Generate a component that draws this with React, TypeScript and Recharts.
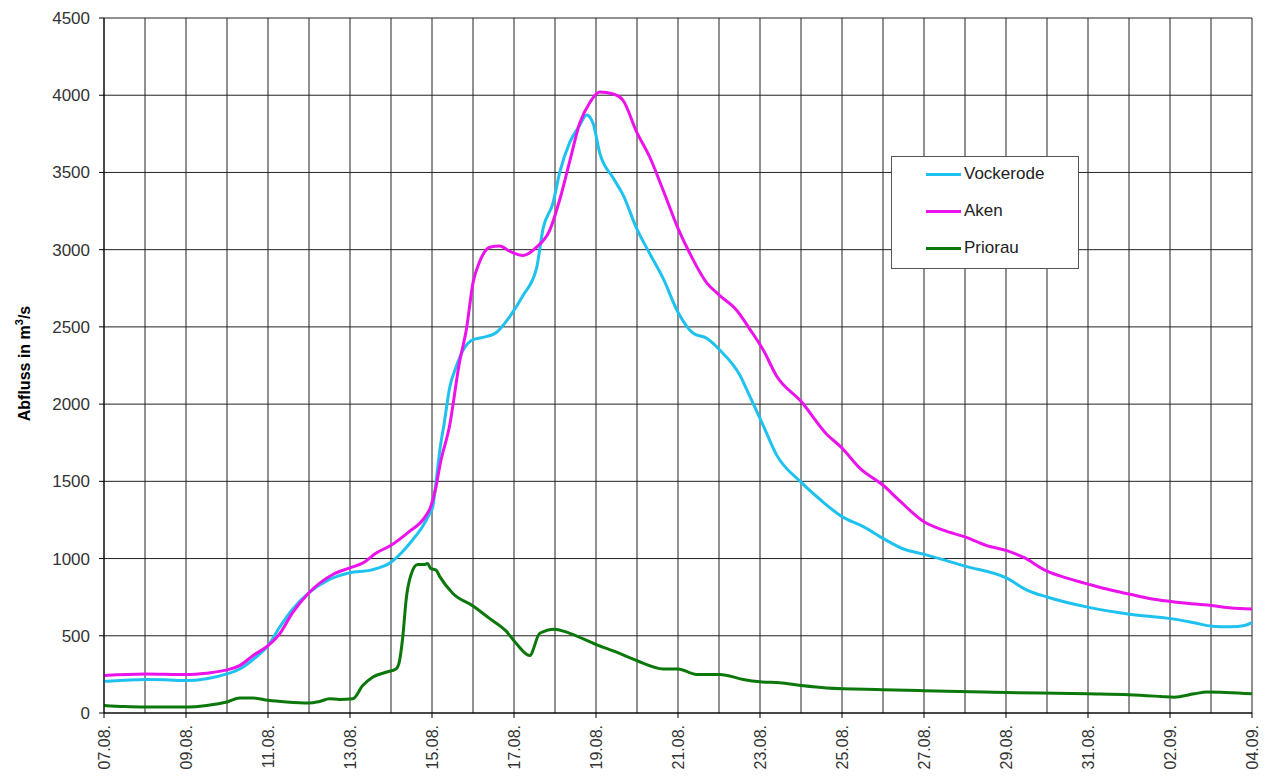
import React from "react";
import { LineChart, Line, XAxis, YAxis, CartesianGrid } from "recharts";

// days since 07.08.
const dateLabels = ["07.08.", "09.08.", "11.08.", "13.08.", "15.08.", "17.08.", "19.08.", "21.08.", "23.08.", "25.08.", "27.08.", "29.08.", "31.08.", "02.09.", "04.09."];
const dayTicks = Array.from({ length: 29 }, (_, i) => i);
const yTicks = [0, 500, 1000, 1500, 2000, 2500, 3000, 3500, 4000, 4500];

const vockerode: [number, number][] = [
  [0, 205], [0.5, 212], [1, 217], [1.5, 215], [2, 210], [2.5, 222], [3, 253], [3.31, 285], [3.63, 345], [4, 436],
  [4.28, 554], [4.6, 672], [5, 779], [5.5, 865], [6, 908], [6.5, 925], [7, 976], [7.29, 1047], [7.53, 1122], [7.77, 1208],
  [7.94, 1290], [8.02, 1337], [8.1, 1500], [8.2, 1720], [8.3, 1880], [8.43, 2106], [8.59, 2242], [8.76, 2350], [9, 2418],
  [9.24, 2432], [9.57, 2464], [9.9, 2568], [10.22, 2703], [10.55, 2880], [10.71, 3138], [10.95, 3301], [11.12, 3505],
  [11.36, 3695], [11.6, 3804], [11.77, 3872], [11.93, 3817], [12.09, 3627], [12.42, 3464], [12.66, 3355], [12.99, 3138],
  [13.31, 2975], [13.64, 2812], [14, 2595], [14.37, 2459], [14.7, 2426], [15.02, 2350], [15.51, 2187], [15.75, 2051],
  [16.08, 1861], [16.4, 1673], [17, 1495], [17.46, 1384], [17.99, 1273], [18.52, 1207], [19.01, 1129], [19.5, 1062],
  [19.99, 1029], [21, 951], [22.02, 873], [22.51, 796], [23, 751], [24.02, 684], [25.02, 640], [26.02, 611],
  [26.59, 584], [27.02, 562], [27.49, 558], [27.82, 567], [28, 585],
];

const aken: [number, number][] = [
  [0, 243], [1, 253], [2, 249], [2.5, 258], [3, 279], [3.31, 307], [3.63, 371], [4, 436], [4.28, 511], [4.6, 650],
  [5, 779], [5.58, 897], [6, 940], [6.32, 972], [6.64, 1036], [7, 1086], [7.45, 1176], [7.81, 1262], [7.97, 1337],
  [8.1, 1466], [8.19, 1600], [8.43, 1861], [8.67, 2269], [8.84, 2486], [9, 2785], [9.16, 2921], [9.41, 3016],
  [9.65, 3024], [9.9, 2989], [10.22, 2962], [10.55, 3016], [10.87, 3125], [11.12, 3328], [11.36, 3573], [11.6, 3817],
  [11.85, 3953], [12.09, 4021], [12.42, 4008], [12.66, 3967], [12.99, 3763], [13.31, 3600], [13.64, 3383], [14, 3138],
  [14.29, 2975], [14.7, 2785], [15.02, 2703], [15.43, 2608], [15.75, 2486], [16.08, 2350], [16.4, 2184], [17, 2018],
  [17.62, 1807], [17.99, 1718], [18.44, 1584], [19.01, 1473], [19.41, 1373], [19.99, 1240], [20.47, 1184], [21, 1140],
  [21.53, 1084], [22.02, 1051], [22.43, 1007], [23, 918], [23.49, 873], [24.02, 833], [24.55, 796], [25.02, 769],
  [25.53, 740], [26.02, 722], [26.51, 707], [27.02, 696], [27.49, 680], [28, 673],
];

const priorau: [number, number][] = [
  [0, 49], [0.5, 42], [1, 39], [2, 39], [2.5, 49], [3, 71], [3.31, 97], [3.63, 97], [4, 82], [4.45, 71], [5, 64],
  [5.26, 75], [5.5, 92], [5.74, 88], [6.07, 92], [6.31, 178], [6.55, 232], [6.88, 264], [7.12, 285], [7.2, 328],
  [7.29, 500], [7.37, 736], [7.49, 897], [7.65, 961], [7.81, 961], [7.89, 968], [7.97, 936], [8.1, 925], [8.19, 883],
  [8.51, 774], [9, 693], [9.41, 611], [9.81, 530], [10.06, 448], [10.38, 372], [10.63, 516], [10.99, 543],
  [11.36, 516], [12.01, 443], [12.5, 394], [12.99, 340], [13.64, 285], [14, 285], [14.45, 250], [15.02, 250],
  [15.59, 217], [16, 202], [16.48, 196], [17, 178], [17.62, 162], [19, 151], [20, 144], [22, 133], [24, 124],
  [25, 118], [25.78, 107], [26.1, 102], [26.59, 124], [26.9, 136], [28, 124],
];

const series = [
  { name: "Vockerode", color: "#1fc2ef", points: vockerode },
  { name: "Aken", color: "#ec12ec", points: aken },
  { name: "Priorau", color: "#0c780c", points: priorau },
];

const FONT = "'Liberation Sans', Arial, sans-serif";

const DayTick = (props: any) => {
  const { x, y, payload } = props;
  const d = payload.value as number;
  if (d % 2 !== 0) return null;
  const ty = y + 4;
  return (
    <g>
      <line x1={x} y1={y - 8} x2={x} y2={y - 3} stroke="#000" />
      <text
        x={x}
        y={ty}
        transform={`rotate(-90, ${x}, ${ty})`}
        textAnchor="end"
        dy="0.35em"
        fontSize={16}
        fontFamily={FONT}
        fill="#333"
      >
        {dateLabels[d / 2]}
      </text>
    </g>
  );
};

const YTitle = (props: any) => {
  const vb = props.viewBox;
  const cx = 24;
  const cy = vb.y + vb.height / 2 - 2;
  return (
    <text
      x={cx}
      y={cy}
      transform={`rotate(-90, ${cx}, ${cy})`}
      textAnchor="middle"
      dy="0.35em"
      fontSize={16}
      fontWeight="bold"
      fontFamily={FONT}
      fill="#000"
    >
      Abfluss in m<tspan dy={-7} fontSize={11}>3</tspan>
      <tspan dy={7}>/s</tspan>
    </text>
  );
};

export default function App() {
  return (
    <div style={{ position: "absolute", left: 0, top: 0, width: 1267, height: 776, background: "#fff" }}>
      <LineChart width={1267} height={776} margin={{ top: 18, right: 15, bottom: 0, left: 0 }}>
        <CartesianGrid stroke="#222" strokeWidth={1} />
        <XAxis
          type="number"
          dataKey="t"
          domain={[0, 28]}
          ticks={dayTicks}
          interval={0}
          height={63}
          axisLine={{ stroke: "#000" }}
          tickLine={false}
          tick={<DayTick />}
          allowDuplicatedCategory={false}
        />
        <YAxis
          type="number"
          domain={[0, 4500]}
          ticks={yTicks}
          interval={0}
          width={104}
          axisLine={{ stroke: "#000" }}
          tickLine={{ stroke: "#000" }}
          tickSize={5}
          tickMargin={9}
          tick={{ fontSize: 17, fontFamily: FONT, fill: "#333" }}
          label={<YTitle />}
        />
        {series.map((s) => (
          <Line
            key={s.name}
            data={s.points.map(([t, v]) => ({ t, v }))}
            dataKey="v"
            name={s.name}
            type="monotone"
            stroke={s.color}
            strokeWidth={3}
            dot={false}
            isAnimationActive={false}
          />
        ))}
      </LineChart>
      <div
        style={{
          position: "absolute",
          left: 891,
          top: 156,
          width: 186,
          height: 111,
          border: "1px solid #555",
          background: "#fff",
          fontFamily: FONT,
          fontSize: 17,
          color: "#222",
        }}
      >
        {series.map((s, i) => (
          <div key={s.name} style={{ position: "absolute", left: 34, top: 7 + i * 37, height: 20, display: "flex", alignItems: "center" }}>
            <div style={{ width: 35, height: 3, background: s.color, marginRight: 3 }} />
            <span>{s.name}</span>
          </div>
        ))}
      </div>
    </div>
  );
}
